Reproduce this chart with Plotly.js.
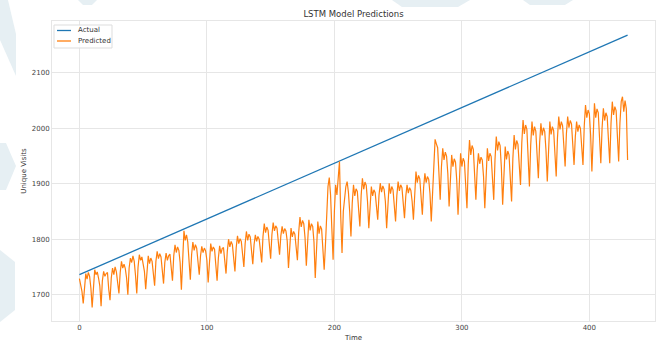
<!DOCTYPE html>
<html>
<head>
<meta charset="utf-8">
<script src="https://cdn.plot.ly/plotly-3.0.1.min.js"></script>
<style>
  html, body { margin: 0; padding: 0; background: #ffffff; }
  #chart { width: 659px; height: 342px; }
</style>
</head>
<body>
<div id="chart"></div>
<script>
// Actual unique visits (straight trend) — endpoints of the series
const actualTime = [0, 430];
const actualVisits = [1736, 2168];

// LSTM predicted unique visits, one value per time step (0..430)
const predictedVisits = [
  1729, 1718, 1706,
  1684, 1722, 1738, 1728, 1740, 1733, 1712,
  1677, 1712, 1745, 1736, 1741, 1730, 1716,
  1679, 1725, 1742, 1733, 1738, 1740, 1710,
  1690, 1730, 1748, 1736, 1750, 1741, 1720,
  1702, 1740, 1760, 1748, 1755, 1747, 1730,
  1700, 1748, 1766, 1758, 1770, 1760, 1735,
  1702, 1750, 1772, 1762, 1768, 1755, 1742,
  1710, 1752, 1770, 1756, 1766, 1760, 1740,
  1716, 1760, 1778, 1765, 1774, 1768, 1748,
  1720, 1758, 1775, 1762, 1770, 1773, 1752,
  1725, 1770, 1790, 1776, 1786, 1780, 1758,
  1709, 1780, 1815, 1798, 1808, 1795, 1765,
  1727, 1772, 1795, 1780, 1790, 1784, 1760,
  1736, 1770, 1787, 1776, 1784, 1779, 1762,
  1722, 1768, 1792, 1778, 1786, 1782, 1757,
  1725, 1766, 1788, 1774, 1783, 1785, 1758,
  1738, 1778, 1800, 1786, 1796, 1790, 1770,
  1742, 1785, 1806, 1792, 1801, 1796, 1774,
  1750, 1792, 1814, 1798, 1809, 1804, 1782,
  1755, 1790, 1808, 1796, 1805, 1800, 1781,
  1758, 1805, 1828, 1812, 1822, 1816, 1793,
  1765, 1808, 1830, 1815, 1824, 1820, 1798,
  1772, 1806, 1823, 1810, 1819, 1815, 1797,
  1748, 1796, 1820, 1804, 1814, 1809, 1785,
  1762, 1812, 1840, 1822, 1834, 1828, 1802,
  1752, 1806, 1835, 1816, 1828, 1823, 1795,
  1730, 1795, 1832, 1810, 1824, 1818, 1783,
  1745, 1790, 1860, 1895, 1911, 1880, 1820,
  1763, 1850, 1898, 1880, 1915, 1940, 1840,
  1775, 1850, 1880, 1895, 1904, 1885, 1850,
  1805, 1865, 1898, 1878, 1891, 1886, 1852,
  1823, 1879, 1910, 1890, 1903, 1897, 1868,
  1820, 1868, 1895, 1878, 1889, 1884, 1858,
  1835, 1879, 1901, 1885, 1896, 1890, 1868,
  1820, 1873, 1901, 1882, 1895, 1889, 1862,
  1832, 1879, 1904, 1887, 1898, 1893, 1869,
  1838, 1877, 1898, 1883, 1893, 1888, 1868,
  1835, 1891, 1922, 1902, 1915, 1909, 1880,
  1844, 1893, 1919, 1902, 1913, 1908, 1882,
  1832, 1890, 1940, 1980, 1972, 1965, 1920,
  1871, 1931, 1964, 1943, 1957, 1950, 1918,
  1859, 1919, 1952, 1931, 1945, 1939, 1906,
  1844, 1915, 1955, 1931, 1946, 1940, 1900,
  1856, 1935, 1979, 1952, 1969, 1962, 1919,
  1871, 1925, 1955, 1936, 1948, 1943, 1913,
  1856, 1925, 1964, 1941, 1955, 1949, 1910,
  1871, 1944, 1985, 1960, 1976, 1969, 1929,
  1862, 1930, 1967, 1944, 1959, 1952, 1915,
  1868, 1945, 1988, 1962, 1978, 1971, 1928,
  1898, 1973, 2015, 1990, 2006, 1998, 1957,
  1895, 1970, 2012, 1987, 2003, 1995, 1954,
  1910, 1974, 2009, 1987, 2001, 1994, 1960,
  1904, 1974, 2012, 1989, 2003, 1996, 1958,
  1913, 1983, 2021, 1998, 2012, 2005, 1967,
  1931, 1990, 2021, 2001, 2014, 2008, 1976,
  1934, 1985, 2012, 1994, 2006, 2000, 1972,
  1934, 2004, 2042, 2019, 2033, 2026, 1988,
  1922, 2001, 2045, 2019, 2035, 2028, 1985,
  1937, 2001, 2036, 2014, 2028, 2021, 1987,
  1937, 2009, 2048, 2024, 2039, 2032, 1993,
  1940, 2010, 2048, 2057, 2030, 2050, 2035,
  1943
];
const predictedTime = predictedVisits.map((_, i) => i);

const xTicks = [0, 100, 200, 300, 400];
const yTicks = [1700, 1800, 1900, 2000, 2100];
const seriesNames = ['Actual', 'Predicted'];

const BLUE = '#1f77b4';
const ORANGE = '#ff7f0e';
const GRID = '#e6e6e6';

// plot area geometry in pixels (for paper-space decorations)
const W = 659, H = 342;
const M = { l: 52, r: 4, t: 21, b: 21 };
const PW = W - M.l - M.r, PH = H - M.t - M.b;
const px = x => (x - M.l) / PW;
const py = y => (H - M.b - y) / PH;
const poly = pts => 'M' + pts.map(p => px(p[0]).toFixed(4) + ',' + py(p[1]).toFixed(4)).join('L') + 'Z';

// faint background emblem pieces
const MARK = '#e6eff3';
const markShapes = [
  [[0, 0], [8, 0], [16, 34], [16, 76], [0, 40]],
  [[0, 143], [6, 143], [16, 166], [6, 190], [0, 190]],
  [[0, 250], [15, 262], [15, 310], [0, 322]],
  [[78, 0], [97, 0], [92, 5], [83, 5]],
  [[392, 0], [470, 0], [458, 7], [402, 7]],
  [[523, 0], [573, 0], [565, 5], [530, 5]]
].map(p => ({
  type: 'path', xref: 'paper', yref: 'paper', layer: 'below',
  path: poly(p), fillcolor: MARK, line: { width: 0 }
}));

// legend box drawn in paper space
const legendShapes = [
  { type: 'rect', xref: 'paper', yref: 'paper', layer: 'above',
    x0: px(54), x1: px(112), y0: py(48), y1: py(25),
    fillcolor: 'rgba(255,255,255,0.85)', line: { color: '#dddddd', width: 1 } },
  { type: 'line', xref: 'paper', yref: 'paper', layer: 'above',
    x0: px(57), x1: px(71), y0: py(30.5), y1: py(30.5), line: { color: BLUE, width: 1.3 } },
  { type: 'line', xref: 'paper', yref: 'paper', layer: 'above',
    x0: px(57), x1: px(71), y0: py(41), y1: py(41), line: { color: ORANGE, width: 1.3 } }
];
const legendText = [
  { text: seriesNames[0], y: 30.5 },
  { text: seriesNames[1], y: 41 }
].map(e => ({
  xref: 'paper', yref: 'paper', x: px(76), y: py(e.y),
  xanchor: 'left', yanchor: 'middle', showarrow: false,
  text: e.text, font: { size: 7, color: '#333333' }
}));

const traces = [
  { x: actualTime, y: actualVisits, name: seriesNames[0], type: 'scatter', mode: 'lines',
    line: { color: BLUE, width: 1.3 } },
  { x: predictedTime, y: predictedVisits, name: seriesNames[1], type: 'scatter', mode: 'lines',
    line: { color: ORANGE, width: 1.2 } }
];

const axisCommon = {
  showgrid: true, gridcolor: GRID, gridwidth: 1,
  zeroline: false, showline: true, linecolor: GRID, linewidth: 1, mirror: true,
  ticks: '', tickfont: { size: 7, color: '#444444' }
};

const layout = {
  width: W, height: H,
  margin: M,
  paper_bgcolor: '#ffffff', plot_bgcolor: '#ffffff',
  font: { family: 'DejaVu Sans, sans-serif', color: '#333333' },
  showlegend: false,
  title: { text: 'LSTM Model Predictions', font: { size: 8.5, color: '#333333' },
           x: 0.5, xref: 'paper', y: 1 - 14 / H, yref: 'container', yanchor: 'middle' },
  xaxis: Object.assign({}, axisCommon, {
    range: [-21.5, 451.5], tickmode: 'array', tickvals: xTicks,
    title: { text: 'Time', font: { size: 7, color: '#333333' }, standoff: 4 }
  }),
  yaxis: Object.assign({}, axisCommon, {
    range: [1652.5, 2193.5], tickmode: 'array', tickvals: yTicks,
    title: { text: 'Unique Visits', font: { size: 7, color: '#333333' }, standoff: 4 }
  }),
  shapes: markShapes.concat(legendShapes),
  annotations: legendText
};

Plotly.newPlot('chart', traces, layout, { staticPlot: true, displayModeBar: false });
</script>
</body>
</html>
